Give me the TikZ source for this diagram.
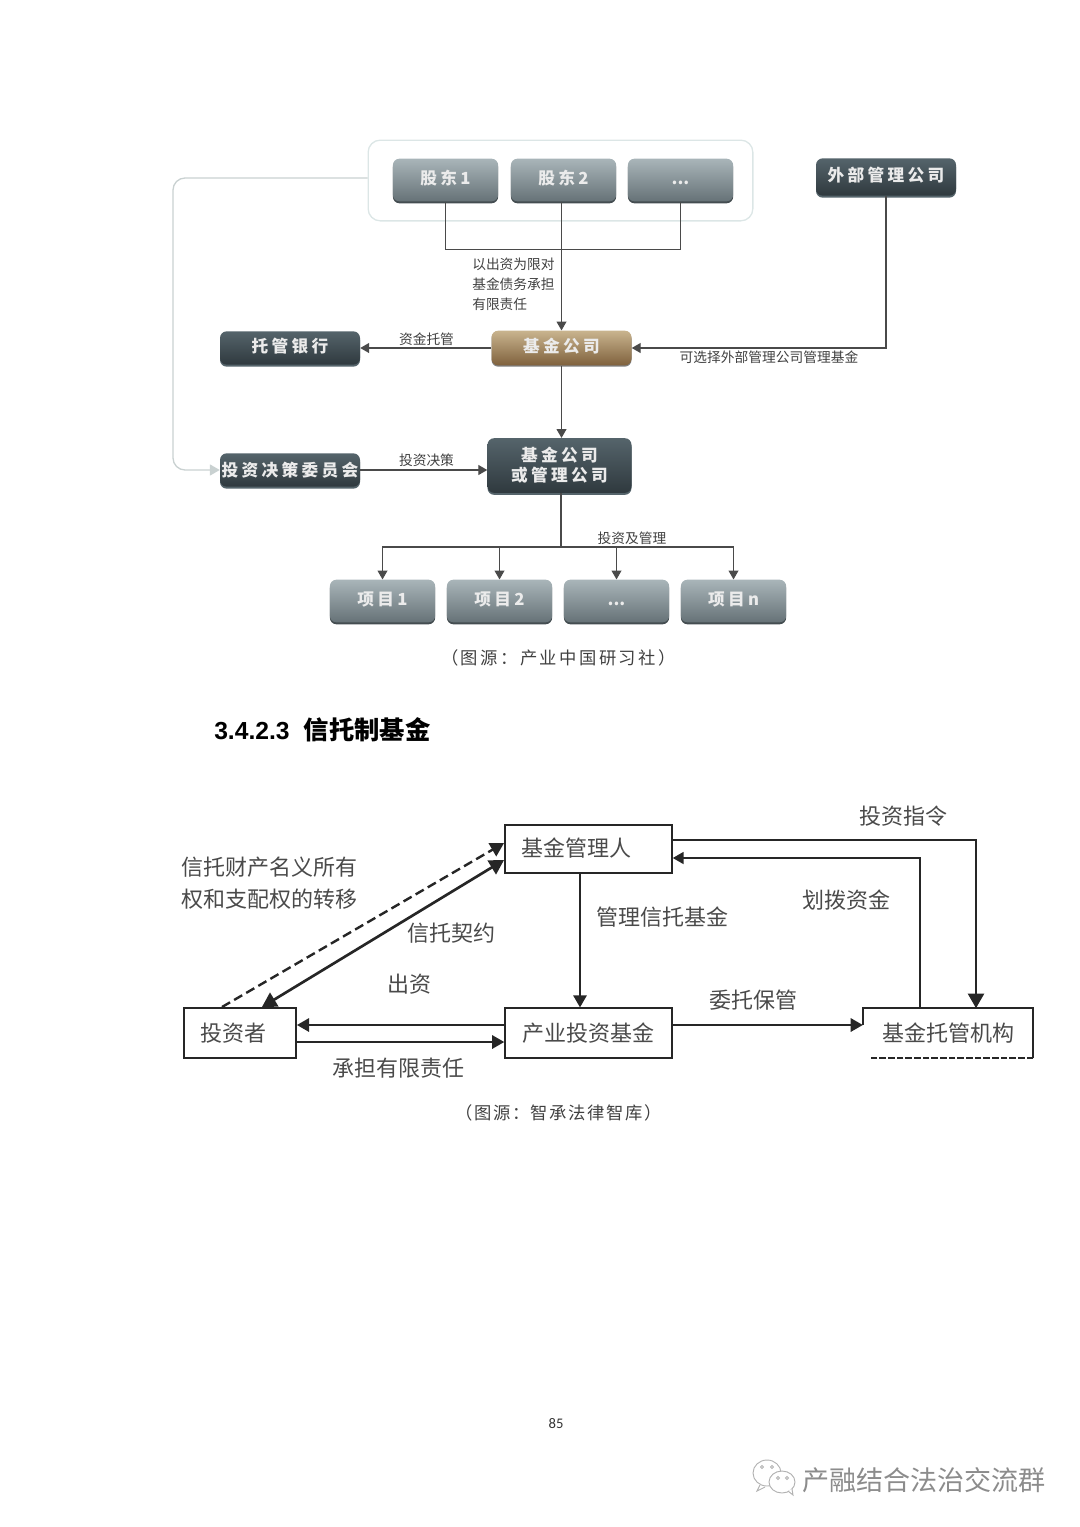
\documentclass[tikz,border=0pt]{standalone}
\usepackage{fontspec}
\newfontfamily\cjk{Noto Sans CJK SC}
\newfontfamily\cjkwide[LetterSpace=20]{Noto Sans CJK SC}
\newfontfamily\cjkcap[LetterSpace=14]{Noto Sans CJK SC}
\newfontfamily\cjkcapb[LetterSpace=9]{Noto Sans CJK SC}
\newfontfamily\arialfont{Liberation Sans}
\newfontfamily\pagefont{Carlito}
\usetikzlibrary{arrows}
\usetikzlibrary{shadows}
\usetikzlibrary{positioning}
\definecolor{palegrp}{HTML}{DCE6E6}
\definecolor{linegray}{HTML}{4A4A4A}
\definecolor{textgray}{HTML}{404040}
\definecolor{lighttop}{HTML}{A9B5B9}
\definecolor{lightbot}{HTML}{667277}
\definecolor{darktop}{HTML}{55646B}
\definecolor{darkbot}{HTML}{2F393E}
\definecolor{goldtop}{HTML}{C9B48E}
\definecolor{goldbot}{HTML}{7F613D}
\tikzstyle{flat}=[rectangle,rounded corners=5pt,inner sep=0mm,text=white!92!black,font=\fontsize{12.5}{15}\selectfont\cjkwide\bfseries]
\tikzstyle{lift}=[text height=11pt,text depth=4pt]
\tikzstyle{lightbox}=[flat,lift,top color=lighttop,bottom color=lightbot,general shadow={shadow yshift=-1.5pt,fill=darkbot!90},minimum width=79pt,minimum height=32pt]
\tikzstyle{darkbox}=[flat,top color=darktop,bottom color=darkbot,general shadow={shadow yshift=-1.5pt,fill=darktop},minimum width=105pt,minimum height=25pt]
\tikzstyle{goldbox}=[flat,lift,top color=goldtop,bottom color=goldbot,general shadow={shadow yshift=-1pt,fill=black!50},minimum width=105pt,minimum height=26pt]
\tikzstyle{small}=[inner sep=0mm,text=textgray,font=\fontsize{10.3}{15}\selectfont\cjk]
\tikzstyle{plain}=[rectangle,draw=black!85,line width=1.5pt,inner sep=0mm,text=linegray,font=\fontsize{16.5}{20}\selectfont\cjk]
\tikzstyle{tag}=[inner sep=0mm,text=linegray,font=\fontsize{16.5}{24.5}\selectfont\cjk]
\tikzstyle{caption}=[inner sep=0mm,text=textgray,font=\fontsize{13}{15}\selectfont\cjkcap]
\tikzstyle{thin}=[->,>=triangle 60,draw=linegray,line width=0.8pt]
\tikzstyle{thick}=[->,>=triangle 60,draw=black!85,line width=1.5pt]
\begin{document}
\begin{tikzpicture}[x=0.75pt,y=-0.75pt]
      \useasboundingbox (0,0) rectangle (1080,1527);
      % upper chart
      \node[draw=palegrp,line width=1pt,rounded corners=9pt,minimum width=288.5pt,minimum height=60.5pt] at (560.5,180.5) (group) {};
      \node[lightbox] at (445.5,180) (holdera) {股东1};
      \node[lightbox] at (563.5,180) (holderb) {股东2};
      \node[lightbox] at (680.5,180) (holderc) {{\cjk...}};
      \node[darkbox,lift,minimum height=28pt] at (886,177) (outer) {外部管理公司};
      \node[darkbox,lift] at (290,348) (bank) {托管银行};
      \node[goldbox] at (561.5,348) (fund) {基金公司};
      \node[darkbox] at (290,470) (cmte) {投资决策委员会};
      \node[darkbox,minimum width=108pt,minimum height=41pt,align=center] at (559.5,465.5) (plan) {基金公司\\或管理公司};
      \node[lightbox] at (382.5,601) (proja) {项目1};
      \node[lightbox] at (499.5,601) (projb) {项目2};
      \node[lightbox] at (616.5,601) (projc) {{\cjk...}};
      \node[lightbox] at (733.5,601) (projn) {项目n};
      \draw[draw=linegray,line width=0.8pt] (holdera.south) -- ++(0,48) -| (holderc.south);
      \draw[thin] (fund.north |- holderb.south) -- (fund.north);
      \draw[thin] (outer.south) |- (fund.east);
      \draw[thin] (fund.west) -- (bank.east);
      \draw[thin] (fund.south) -- (fund.south |- plan.north);
      \draw[thin] (cmte.east) -- (plan.west |- cmte.east);
      \coordinate (turn) at (173,178);
      \draw[->,>=triangle 60,draw=palegrp!80!gray,line width=1pt,rounded corners=9pt] (group.west |- turn) -- (turn) |- (cmte.west);
      \coordinate (bus) at (561,547);
      \draw[draw=linegray,line width=0.8pt] (bus |- plan.south) -- (bus);
      \draw[thin] (bus) -| (proja.north);
      \draw[thin] (bus) -| (projb.north);
      \draw[thin] (bus) -| (projc.north);
      \draw[thin] (bus) -| (projn.north);
      \node[small,align=left,anchor=west] at (472,284) (limit) {以出资为限对\\基金债务承担\\有限责任};
      \node[small] at (426.5,339) (custody) {资金托管};
      \node[small] at (769,357) (choose) {可选择外部管理公司管理基金};
      \node[small] at (426.5,460) (decide) {投资决策};
      \node[small] at (632,538) (manage) {投资及管理};
      \node[caption] at (558.5,658) (capa) {（图源：产业中国研习社）};
      % section title
      \node[inner sep=0mm,anchor=west,font=\fontsize{18.5}{22}\selectfont\bfseries] at (214,730) (title) {{\arialfont 3.4.2.3}\hspace{10.5pt}{\fontsize{19}{22}\selectfont\cjk 信托制基金}};
      % lower chart
      \node[plain,minimum width=125pt,minimum height=36pt] at (588.5,848.5) (mgr) {基金管理人\kern18pt};
      \node[plain,minimum width=84pt,minimum height=37pt] at (240,1033) (inv) {投资者\kern10.5pt};
      \node[plain,minimum width=125pt,minimum height=37pt] at (588.5,1033) (base) {产业投资基金};
      \node[inner sep=0mm,text=linegray,font=\fontsize{16.5}{20}\selectfont\cjk,minimum width=127.5pt,minimum height=37pt] at (948,1033) (keeper) {基金托管机构};
      \draw[draw=black!85,line width=1.5pt] ([yshift=6pt]keeper.west) |- (keeper.north east) -- (keeper.south east);
      \draw[draw=black!85,line width=1.5pt,dash pattern=on 5pt off 1.5pt] (keeper.south east) -- ([xshift=6pt]keeper.south west);
      \coordinate (dashfrom) at (222,1007);
      \coordinate (dashto) at (504,843);
      \coordinate (linka) at (262,1007);
      \coordinate (linkb) at (504,860);
      \draw[thick,line width=1.8pt,dash pattern=on 7pt off 3.5pt] (dashfrom) -- (dashto);
      \draw[thick,<->,line width=2pt] (linka) -- (linkb);
      \draw[thick] (mgr.south -| 580,0) -- (base.north -| 580,0);
      \coordinate (orderturn) at (976,840);
      \draw[thick,line width=2pt] (mgr.east |- orderturn) -- (orderturn) -- (orderturn |- keeper.north);
      \coordinate (payturn) at (920,858);
      \draw[thick,line width=1.2pt] (payturn |- keeper.north) -- (payturn) -- (mgr.east |- payturn);
      \draw[thick] (base.west |- 0,1025) -- (inv.east |- 0,1025);
      \draw[thick] (inv.east |- 0,1042) -- (base.west |- 0,1042);
      \draw[thick] (base.east |- 0,1025) -- (keeper.west |- 0,1025);
      \node[tag,align=left,anchor=west] at (181,883) (transfer) {信托财产名义所有\\权和支配权的转移};
      \node[tag] at (451,933) (deed) {信托契约};
      \node[tag] at (409.5,984) (pay) {出资};
      \node[tag] at (398.5,1068) (liab) {承担有限责任};
      \node[tag] at (662,917) (mtrust) {管理信托基金};
      \node[tag] at (846,900) (alloc) {划拨资金};
      \node[tag] at (903,816) (order) {投资指令};
      \node[tag] at (753.5,1000) (entrust) {委托保管};
      \node[caption,font=\fontsize{13}{15}\selectfont\cjkcapb] at (558.5,1113) (capb) {（图源：智承法律智库）};
      % page foot
      \node[inner sep=0mm,text=black!80,font=\fontsize{11}{13}\selectfont\pagefont] at (556,1424) (page) {85};
      \draw[draw=gray!60,line width=0.7pt] (767,1473) ellipse [x radius=14,y radius=13];
      \draw[draw=gray!60,line width=0.7pt,fill=white] (782,1482) ellipse [x radius=13,y radius=11];
      \draw[draw=gray!60,line width=0.7pt] (760,1485) -- (757,1491) -- (765,1487);
      \draw[draw=gray!60,line width=0.7pt,fill=white] (788,1491) -- (793,1495) -- (792,1489);
      \foreach \ex/\ey in {762/1467,772/1467,778/1478,787/1478}
        \draw[draw=gray!60,line width=0.6pt] (\ex,\ey) circle [radius=1.5];
      \node[inner sep=0mm,text=gray!90,font=\fontsize{20.3}{24}\selectfont\cjk] at (924,1480) (mark) {产融结合法治交流群};
    \end{tikzpicture}
\end{document}
